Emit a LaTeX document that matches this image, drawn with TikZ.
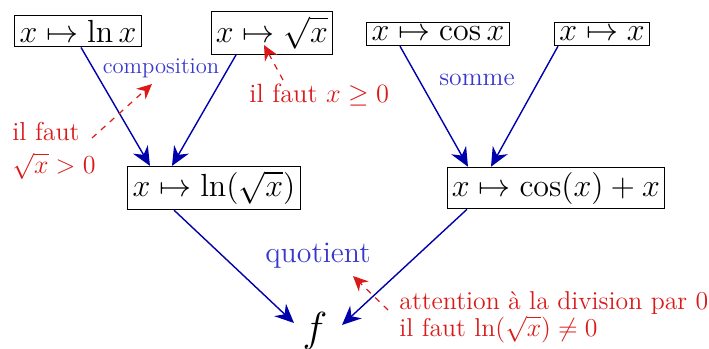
\RequirePackage{fix-cm}
\documentclass[tikz,border=0pt]{standalone}
\usepackage{amsmath}
\usetikzlibrary{arrows.meta}
\definecolor{fleche}{rgb}{0,0,0.68}
\definecolor{bleu}{rgb}{0.22,0.22,0.8}
\definecolor{rouge}{rgb}{0.86,0.1,0.1}
\tikzset{
  fct/.style={draw, line width=0.5pt, inner sep=2.4pt, font=\fontsize{16}{19}\selectfont},
  op/.style={fleche, line width=0.7pt, -{Stealth[length=9.5pt,width=8.5pt]}},
  cond/.style={rouge, dashed, line width=0.6pt, -{Stealth[length=7.5pt,width=7pt]}},
  rem/.style={rouge, align=left, inner sep=0pt}
}
\begin{document}
\begin{tikzpicture}[x=0.5pt,y=-0.5pt]
  \useasboundingbox (0,0) rectangle (709,349);
  % fonctions de base
  \node[fct] (ln) at (78,31) {$x\mapsto\ln x$};
  \node[fct] (rac) at (272,33) {$x\mapsto\sqrt{x}$};
  \node[fct] (cos) at (438,34) {$x\mapsto\cos x$};
  \node[fct] (id) at (602,34) {$x\mapsto x$};
  % fonctions intermediaires
  \node[fct] (lnrac) at (214,188) {$x\mapsto\ln(\sqrt{x})$};
  \node[fct] (som) at (556,188) {$x\mapsto\cos(x)+x$};
  % resultat
  \node[font=\fontsize{21}{24}\selectfont, inner sep=0pt] (f) at (315,331) {$f$};
  % operations
  \draw[op] ([xshift=1.5pt]ln.south) -- ([xshift=-32pt]lnrac.north);
  \draw[op] ([xshift=-18pt]rac.south) -- ([xshift=-21pt]lnrac.north);
  \draw[op] ([xshift=-19pt]cos.south) -- ([xshift=-44pt]som.north);
  \draw[op] ([xshift=-22pt]id.south) -- ([xshift=-32.5pt]som.north);
  \draw[op] ([xshift=-20pt]lnrac.south) -- ([xshift=-10.5pt,yshift=4pt]f.center);
  \draw[op] ([xshift=-44.5pt]som.south) -- ([xshift=13.5pt,yshift=3pt]f.center);
  % noms des operations
  \node[bleu, font=\fontsize{11.3}{13}\selectfont] (tcomp) at (161,68) {composition};
  \node[bleu, font=\fontsize{12.8}{15}\selectfont] (tsom) at (477,80) {somme};
  \node[bleu, font=\fontsize{14.9}{17}\selectfont] (tquo) at (318,256) {quotient};
  % conditions
  \node[rem, font=\fontsize{13}{16.5}\selectfont, anchor=west] (c1) at (12,151) {il faut\\$\sqrt{x}>0$};
  \node[rem, font=\fontsize{13.2}{15}\selectfont, anchor=west] (c2) at (249,95) {il faut $x\geq 0$};
  \node[rem, font=\fontsize{12.9}{13.5}\selectfont, anchor=west] (c3) at (399,317) {attention à la division par 0\\il faut $\ln(\sqrt{x})\neq 0$};
  \coordinate (p1) at (92,138);
  \coordinate (q1) at (152,84);
  \coordinate (p2) at (283,80);
  \coordinate (q2) at (264,45);
  \coordinate (p3) at (388,310);
  \coordinate (q3) at (353,276);
  \draw[cond] (p1) -- (q1);
  \draw[cond] (p2) -- (q2);
  \draw[cond] (p3) -- (q3);
\end{tikzpicture}
\end{document}
